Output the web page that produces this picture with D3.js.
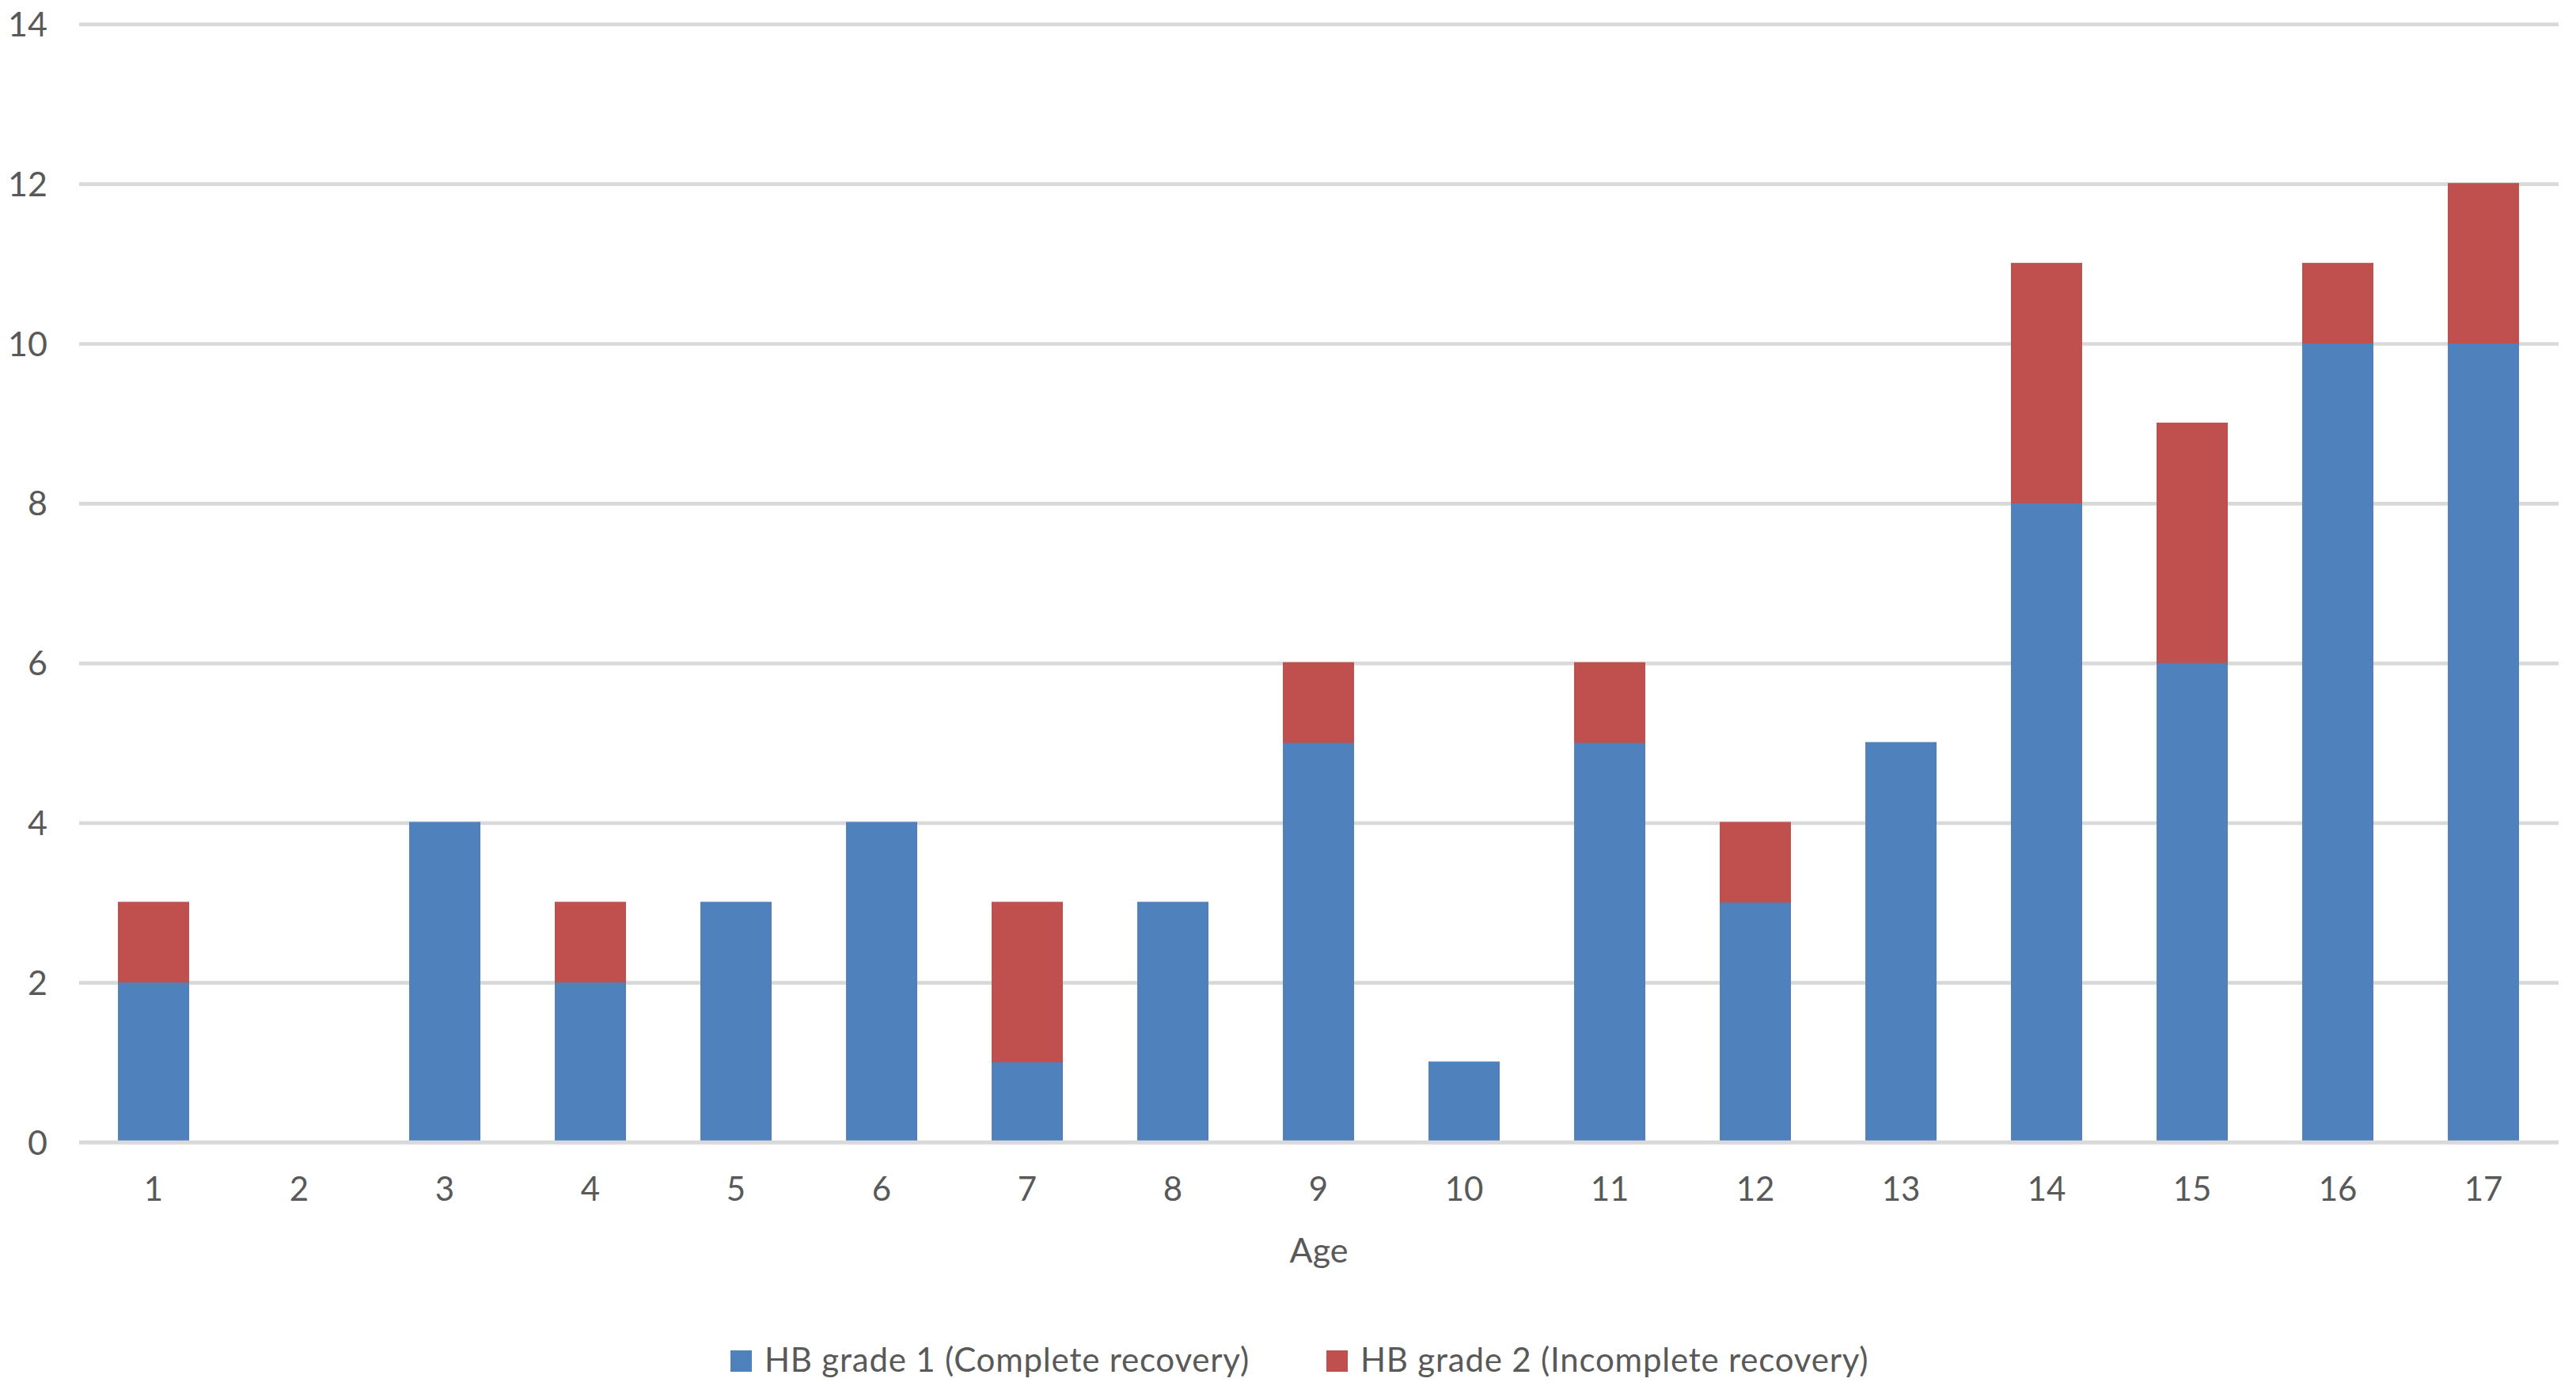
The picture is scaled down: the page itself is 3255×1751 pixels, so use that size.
<!DOCTYPE html>
<html>
<head>
<meta charset="utf-8">
<script src="https://cdn.jsdelivr.net/npm/d3@7"></script>
<style>
    body { margin: 0; background: #ffffff; }
    text { font-family: Lato, "Open Sans", sans-serif; fill: #595959; }
</style>
</head>
<body>
<div id="chart"></div>
<script>

// data
const ages = ["1", "2", "3", "4", "5", "6", "7", "8", "9", "10", "11", "12", "13", "14", "15", "16", "17"];
const grade1 = [2, 0, 4, 2, 3, 4, 1, 3, 5, 1, 5, 3, 5, 8, 6, 10, 10];
const grade2 = [1, 0, 0, 1, 0, 0, 2, 0, 1, 0, 1, 1, 0, 3, 3, 1, 2];
const yTicks = [0, 2, 4, 6, 8, 10, 12, 14];
const seriesNames = ["HB grade 1 (Complete recovery)", "HB grade 2 (Incomplete recovery)"];
const colors = ["#4f81bd", "#c0504d"];

const widthSvg = 3255, heightSvg = 1751;
const plotLeft = 100, plotRight = 3233;
const fontSize = 42;

let rows = ages.map((age, i) => ({ age: age, g1: grade1[i], g2: grade2[i] }));

let stack = d3.stack().keys(["g1", "g2"]);
let stacked = stack(rows);

// scales
let xScale = d3.scaleBand()
    .domain(ages)
    .range([102, 3230])
    .paddingInner(0.511)
    .paddingOuter(0.2555);

let yScale = d3.scaleLinear()
    .domain([0, 14])
    .range([1443, 30.4]);

let svg = d3.select("#chart").append("svg")
    .attr("width", widthSvg).attr("height", heightSvg);

svg.append("rect").attr("width", widthSvg).attr("height", heightSvg).attr("fill", "#ffffff");

// y axis + gridlines
let yAxis = svg.append("g")
    .attr("transform", `translate(${plotLeft}, 0)`)
    .call(d3.axisLeft(yScale)
        .tickValues(yTicks)
        .tickSize(-(plotRight - plotLeft))
        .tickPadding(40));

yAxis.select(".domain").remove();
yAxis.selectAll("line")
    .attr("stroke", "#d9d9d9")
    .attr("stroke-width", 4.7);
yAxis.selectAll("text")
    .attr("dy", "0.35em")
    .style("font-size", "43px")
    .attr("fill", "#595959");

// bars
svg.append("g")
    .selectAll("g")
    .data(stacked)
    .enter()
    .append("g")
    .attr("fill", (d, i) => colors[i])
    .selectAll("rect")
    .data(d => d.filter(p => p[1] - p[0] > 0))
    .enter()
    .append("rect")
    .attr("x", d => xScale(d.data.age))
    .attr("width", xScale.bandwidth())
    .attr("y", d => yScale(d[1]) - 1)
    .attr("height", d => (d[0] === 0 ? yScale(d[0]) + 2 : yScale(d[0])) - yScale(d[1]) + 1);

// base line on top of bars
svg.append("line")
    .attr("x1", plotLeft).attr("x2", plotRight)
    .attr("y1", yScale(0)).attr("y2", yScale(0))
    .attr("stroke", "#d9d9d9")
    .attr("stroke-width", 4.7);

// x axis labels
let xAxis = svg.append("g")
    .attr("transform", `translate(0, ${yScale(0)})`)
    .call(d3.axisBottom(xScale).tickSize(0));

xAxis.select(".domain").remove();
xAxis.selectAll("text")
    .attr("y", 74)
    .attr("dy", null)
    .style("font-size", fontSize + "px")
    .attr("fill", "#595959");

// axis title
svg.append("text")
    .text("Age")
    .attr("x", (plotLeft + plotRight) / 2)
    .attr("y", 1595)
    .attr("text-anchor", "middle")
    .style("font-size", "43px");

// legend
const legendX = [923, 1676];
let legend = svg.append("g").attr("id", "legend");

seriesNames.forEach((name, i) => {
    let item = legend.append("g").attr("transform", `translate(${legendX[i]}, 0)`);
    item.append("rect")
        .attr("x", 0).attr("y", 1706)
        .attr("width", 27).attr("height", 27)
        .attr("fill", colors[i]);
    item.append("text")
        .text(name)
        .attr("x", 43)
        .attr("y", 1733)
        .style("font-size", fontSize + "px")
        .style("letter-spacing", "0.8px");
});

</script>
</body>
</html>
